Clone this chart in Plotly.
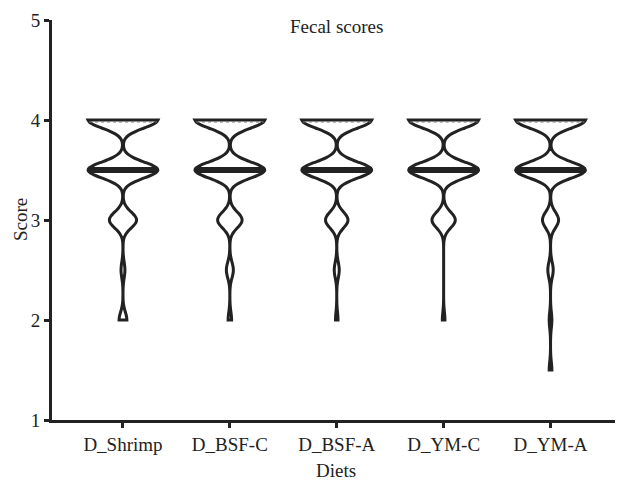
import numpy as np
import plotly.graph_objects as go

# ---- data ----
diets = ["D_Shrimp", "D_BSF-C", "D_BSF-A", "D_YM-C", "D_YM-A"]
score_levels = [1.5, 2.0, 2.5, 3.0, 3.5, 4.0]
counts_shrimp = [0, 2, 1, 7, 18, 18]
counts_bsf_c = [0, 1, 2, 7, 20, 20]
counts_bsf_a = [0, 1, 2, 9, 28, 28]
counts_ym_c = [0, 1, 0, 9, 27, 27]
counts_ym_a = [1, 1, 2, 6, 26, 26]
y_ticks = [1, 2, 3, 4, 5]

all_counts = [counts_shrimp, counts_bsf_c, counts_bsf_a, counts_ym_c, counts_ym_a]

BW = 0.08
VW = 0.654
INK = "#222222"
FONT = "Liberation Serif, Times New Roman, serif"


def kde(vals, bw):
    vals = np.asarray(vals, float)
    n = len(vals)

    def f(x):
        u = (np.atleast_1d(x)[:, None] - vals[None, :]) / bw
        return np.exp(-0.5 * u ** 2).sum(axis=1) / (n * bw * np.sqrt(2 * np.pi))
    return f


fig = go.Figure()
positions = list(range(len(diets)))

for pos, cnts in zip(positions, all_counts):
    vals = np.repeat(score_levels, cnts)
    fig.add_trace(go.Violin(
        x=[pos] * len(vals), y=vals, width=VW, bandwidth=BW,
        spanmode="hard", scalemode="width", points=False,
        line=dict(color=INK, width=3), fillcolor="white",
        box=dict(visible=False), meanline=dict(visible=False),
        showlegend=False, hoverinfo="skip",
    ))
    # half-width at a given score, matching plotly's sampling/normalisation
    f = kde(vals, BW)
    lo, hi = vals.min(), vals.max()
    nstep = int(np.ceil((hi - lo) / (BW / 3)))
    grid = np.linspace(lo, hi, nstep + 1)
    dmax = f(grid).max()

    def hw(y):
        return min(f(y)[0] / dmax, 1.0) * VW / 2

    q1, med, q3 = np.percentile(vals, [25, 50, 75])
    for q in (q1, q3):
        h = hw(q) * 0.97
        fig.add_trace(go.Scatter(
            x=[pos - h, pos + h], y=[q - 0.02, q - 0.02], mode="lines",
            line=dict(color="#777777", width=1.2, dash="dot"),
            showlegend=False, hoverinfo="skip"))
    h = hw(med)
    fig.add_trace(go.Scatter(
        x=[pos - h, pos + h], y=[med, med], mode="lines",
        line=dict(color=INK, width=6),
        showlegend=False, hoverinfo="skip"))

# page body has an 8px margin: size the figure so the plot area sits
# at x 52..620 and y 20..420 in the 623x483 window
fig.update_layout(
    width=615, height=475,
    margin=dict(l=44, r=3, t=12, b=63),
    paper_bgcolor="white", plot_bgcolor="white",
    violinmode="overlay",
    font=dict(family=FONT, size=19, color=INK),
    showlegend=False,
)
fig.update_xaxes(
    range=[-0.664, 4.65], tickmode="array", tickvals=positions, ticktext=diets,
    showline=True, linecolor=INK, linewidth=3, ticks="outside", ticklen=5,
    tickwidth=2.5, tickcolor=INK, showgrid=False, zeroline=False,
    tickfont=dict(family=FONT, size=19, color=INK),
)
fig.update_yaxes(
    range=[1, 5], tickmode="array", tickvals=y_ticks,
    showline=True, linecolor=INK, linewidth=3, ticks="outside", ticklen=5,
    tickwidth=2.5, tickcolor=INK, showgrid=False, zeroline=False,
    tickfont=dict(family=FONT, size=19, color=INK),
)
fig.add_annotation(text="Fecal scores", xref="paper", yref="paper",
                   x=0.5, y=(400 - 6) / 400, showarrow=False,
                   xanchor="center", yanchor="middle",
                   font=dict(family=FONT, size=19, color=INK))
fig.add_annotation(text="Score", xref="paper", yref="paper",
                   x=(12 - 44) / 568, y=0.5, textangle=-90, showarrow=False,
                   xanchor="center", yanchor="middle",
                   font=dict(family=FONT, size=19, color=INK))
fig.add_annotation(text="Diets", xref="paper", yref="paper",
                   x=0.5, y=(400 - 450) / 400, showarrow=False,
                   xanchor="center", yanchor="middle",
                   font=dict(family=FONT, size=19, color=INK))

fig.write_html("out.html")
